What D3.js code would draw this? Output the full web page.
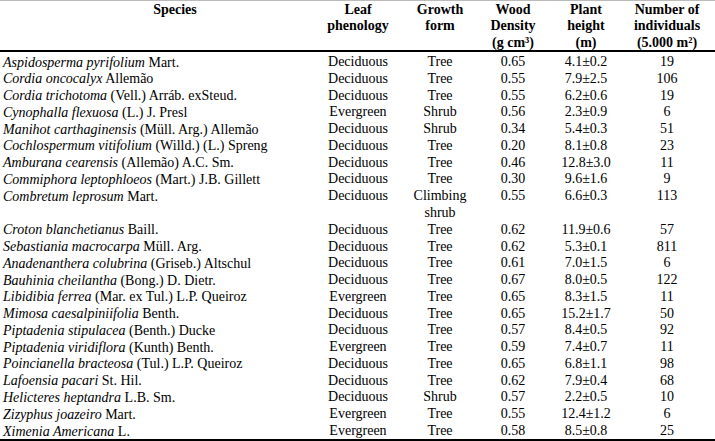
<!DOCTYPE html>
<html><head><meta charset="utf-8">
<script src="https://cdn.jsdelivr.net/npm/d3@7"></script>
<style>
html,body{margin:0;padding:0;background:#fff;}
svg{display:block;}
svg text{font-family:'Liberation Serif','Times New Roman',Times,'DejaVu Serif',serif;font-size:14px;fill:#000;}
</style></head>
<body>
<svg id="c" width="715" height="441"></svg>
<script>
const speciesItalic = ["Aspidosperma pyrifolium","Cordia oncocalyx","Cordia trichotoma","Cynophalla flexuosa","Manihot carthaginensis","Cochlospermum vitifolium","Amburana cearensis","Commiphora leptophloeos","Combretum leprosum","Croton blanchetianus","Sebastiania macrocarpa","Anadenanthera colubrina","Bauhinia cheilantha","Libidibia ferrea","Mimosa caesalpiniifolia","Piptadenia stipulacea","Piptadenia viridiflora","Poincianella bracteosa","Lafoensia pacari","Helicteres heptandra","Zizyphus joazeiro","Ximenia Americana"];
const speciesAuthor = ["Mart.","Allemão","(Vell.) Arráb. exSteud.","(L.) J. Presl","(Müll. Arg.) Allemão","(Willd.) (L.) Spreng","(Allemão) A.C. Sm.","(Mart.) J.B. Gillett","Mart.","Baill.","Müll. Arg.","(Griseb.) Altschul","(Bong.) D. Dietr.","(Mar. ex Tul.) L.P. Queiroz","Benth.","(Benth.) Ducke","(Kunth) Benth.","(Tul.) L.P. Queiroz","St. Hil.","L.B. Sm.","Mart.","L."];
const leafPhenology = ["Deciduous","Deciduous","Deciduous","Evergreen","Deciduous","Deciduous","Deciduous","Deciduous","Deciduous","Deciduous","Deciduous","Deciduous","Deciduous","Evergreen","Deciduous","Deciduous","Evergreen","Deciduous","Deciduous","Deciduous","Evergreen","Evergreen"];
const growthForm = ["Tree","Tree","Tree","Shrub","Shrub","Tree","Tree","Tree","Climbing|shrub","Tree","Tree","Tree","Tree","Tree","Tree","Tree","Tree","Tree","Tree","Shrub","Tree","Tree"];
const woodDensity = [0.65,0.55,0.55,0.56,0.34,0.20,0.46,0.30,0.55,0.62,0.62,0.61,0.67,0.65,0.65,0.57,0.59,0.65,0.62,0.57,0.55,0.58];
const heightMean = [4.1,7.9,6.2,2.3,5.4,8.1,12.8,9.6,6.6,11.9,5.3,7.0,8.0,8.3,15.2,8.4,7.4,6.8,7.9,2.2,12.4,8.5];
const heightSd = [0.2,2.5,0.6,0.9,0.3,0.8,3.0,1.6,0.3,0.6,0.1,1.5,0.5,1.5,1.7,0.5,0.7,1.1,0.4,0.5,1.2,0.8];
const individuals = [19,106,19,6,51,23,11,9,113,57,811,6,122,11,50,92,11,98,68,10,6,25];
const columns = ["Species","Leaf|phenology","Growth|form","Wood|Density|(g cm³)","Plant|height|(m)","Number of|individuals|(5.000 m²)"];

const svg = d3.select("#c");
const W = 715, H = 441;
const FONT = "'Liberation Serif','Times New Roman',Times,'DejaVu Serif',serif";

const colX = d3.scaleOrdinal().domain(columns).range([175,358,440,513,586,667]);

let acc = 0;
const lineIdx = growthForm.map(g => { const v = acc; acc += g.split("|").length; return v; });
const totalLines = acc;
const y = d3.scaleLinear().domain([0, totalLines - 1]).range([61.5, 430.5]);
const yHead = d3.scaleLinear().domain([0, 2]).range([8.5, 42]);

svg.append("line").attr("x1",0).attr("x2",W).attr("y1",0.5).attr("y2",0.5).attr("stroke","#bbb").attr("stroke-width",1);
svg.append("line").attr("x1",0).attr("x2",W).attr("y1",51).attr("y2",51).attr("stroke","#000").attr("stroke-width",2);
svg.append("line").attr("x1",0).attr("x2",W).attr("y1",440).attr("y2",440).attr("stroke","#000").attr("stroke-width",2);

const head = svg.append("g");
columns.forEach(c => {
  const t = head.append("text").attr("text-anchor","middle").attr("dominant-baseline","central")
    .attr("font-family",FONT).attr("font-size",14).attr("font-weight","bold");
  c.split("|").forEach((ln,i) => {
    t.append("tspan").attr("x", colX(c)).attr("y", yHead(i)).text(ln);
  });
});

const fmt1 = d3.format(".1f"), fmt2 = d3.format(".2f");
const body = svg.append("g");
speciesItalic.forEach((sp,i) => {
  const yy = y(lineIdx[i]);
  const t = body.append("text").attr("x",3).attr("y",yy).attr("dominant-baseline","central")
    .attr("font-family",FONT).attr("font-size",14);
  t.append("tspan").attr("font-style","italic").text(sp);
  t.append("tspan").text(" " + speciesAuthor[i]);
  const cells = [leafPhenology[i], growthForm[i], fmt2(woodDensity[i]), fmt1(heightMean[i]) + "±" + fmt1(heightSd[i]), String(individuals[i])];
  cells.forEach((v,j) => {
    const c = columns[j+1];
    v.split("|").forEach((ln,k) => {
      body.append("text").attr("x", colX(c)).attr("y", y(lineIdx[i]+k))
        .attr("text-anchor","middle").attr("dominant-baseline","central")
        .attr("font-family",FONT).attr("font-size",14).text(ln);
    });
  });
});
</script>
</body></html>
